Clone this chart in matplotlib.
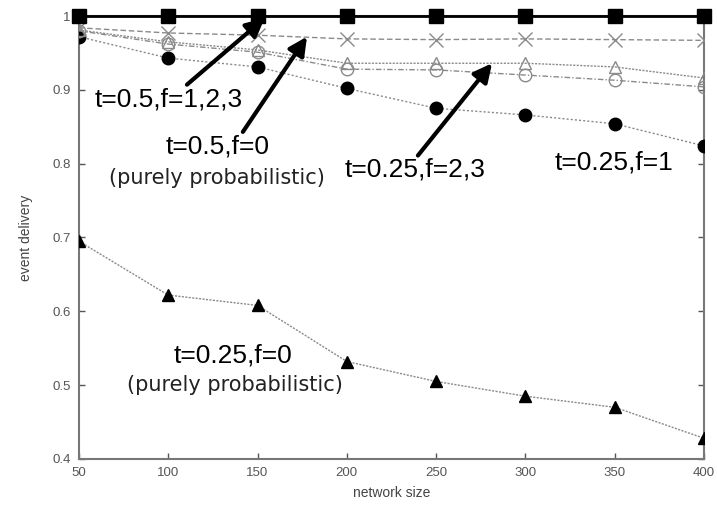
import numpy as np
import matplotlib
matplotlib.use("Agg")
import matplotlib.pyplot as plt

# network sizes on the x axis
sizes = [50, 100, 150, 200, 250, 300, 350, 400]

# event delivery per configuration
t05_f123 = [1.0, 1.0, 1.0, 1.0, 1.0, 1.0, 1.0, 1.0]
t05_f0 = [0.984, 0.977, 0.974, 0.969, 0.968, 0.969, 0.968, 0.967]
t025_f2 = [0.981, 0.965, 0.954, 0.936, 0.936, 0.936, 0.931, 0.916]
t025_f3 = [0.980, 0.962, 0.951, 0.928, 0.927, 0.920, 0.913, 0.904]
t025_f1 = [0.972, 0.943, 0.931, 0.902, 0.875, 0.866, 0.854, 0.824]
t025_f0 = [0.695, 0.622, 0.608, 0.532, 0.505, 0.485, 0.470, 0.428]

xticks = [50, 100, 150, 200, 250, 300, 350, 400]
yticks = [0.4, 0.5, 0.6, 0.7, 0.8, 0.9, 1.0]
ytick_labels = ["0.4", "0.5", "0.6", "0.7", "0.8", "0.9", "1"]

plt.rcParams['font.family'] = ['Liberation Sans', 'DejaVu Sans']

fig = plt.figure(figsize=(7.17, 5.08), dpi=100)
ax = fig.add_axes([0.110, 0.0965, 0.872, 0.872])

grey = '#8a8a8a'
# lower curves first, squares last so they sit on top
ax.plot(sizes, t025_f0, color=grey, ls=(0, (1.5, 1)), lw=1.0,
        marker='^', ms=9, mfc='black', mec='black', zorder=3)
ax.plot(sizes, t025_f1, color=grey, ls=(0, (1.5, 1.5)), lw=1.0,
        marker='o', ms=9, mfc='black', mec='black', zorder=3)
ax.plot(sizes, t025_f3, color=grey, ls=(0, (4, 1.5, 1, 1.5)), lw=1.0,
        marker='o', ms=9, mfc='none', mec=grey, mew=1.0, zorder=3)
ax.plot(sizes, t025_f2, color=grey, ls=(0, (1.5, 1)), lw=1.0,
        marker='^', ms=9, mfc='none', mec=grey, mew=1.0, zorder=3)
ax.plot(sizes, t05_f0, color=grey, ls=(0, (4, 2)), lw=1.0,
        marker='x', ms=10, mec=grey, mew=1.0, zorder=3)
ax.plot(sizes, t05_f123, color='black', ls='-', lw=2.0,
        marker='s', ms=10, mfc='black', mec='black', zorder=4, clip_on=False)

ax.set_xlim(50, 400)
ax.set_ylim(0.4, 1.0)
ax.set_xticks(xticks)
ax.set_yticks(yticks)
ax.set_yticklabels(ytick_labels)
ax.tick_params(direction='in', length=4, width=1, colors='#555555',
               labelsize=9.5, top=True, right=True, labeltop=False,
               labelright=False, pad=6)
for s in ax.spines.values():
    s.set_color('#777777')
    s.set_linewidth(1.5)

ax.set_xlabel('network size', fontsize=10, color='#444444', labelpad=5)
ax.set_ylabel('event delivery', fontsize=10, color='#444444', labelpad=14)

arrow = dict(arrowstyle='-|>,head_length=1.1,head_width=0.55', color='black',
             lw=3, shrinkA=0, shrinkB=0)

ax.annotate('', xy=(154, 0.997), xytext=(110.5, 0.907), arrowprops=arrow, zorder=5)
ax.annotate('', xy=(177.7, 0.972), xytext=(141.8, 0.843), arrowprops=arrow, zorder=5)
ax.annotate('', xy=(281.3, 0.936), xytext=(239.8, 0.811), arrowprops=arrow, zorder=5)

big = dict(fontsize=19, ha='center', va='center', color='black')
small = dict(fontsize=15, ha='center', va='center', color='#222222',
             family='DejaVu Sans')

ax.text(100.4, 0.887, 't=0.5,f=1,2,3', **big)
ax.text(127.8, 0.823, 't=0.5,f=0', **big)
ax.text(127.5, 0.780, '(purely probabilistic)', **small)
ax.text(238, 0.792, 't=0.25,f=2,3', **big)
ax.text(349.6, 0.801, 't=0.25,f=1', **big)
ax.text(136.2, 0.540, 't=0.25,f=0', **big)
ax.text(137.4, 0.500, '(purely probabilistic)', **small)

fig.savefig('out.png', dpi=100)
